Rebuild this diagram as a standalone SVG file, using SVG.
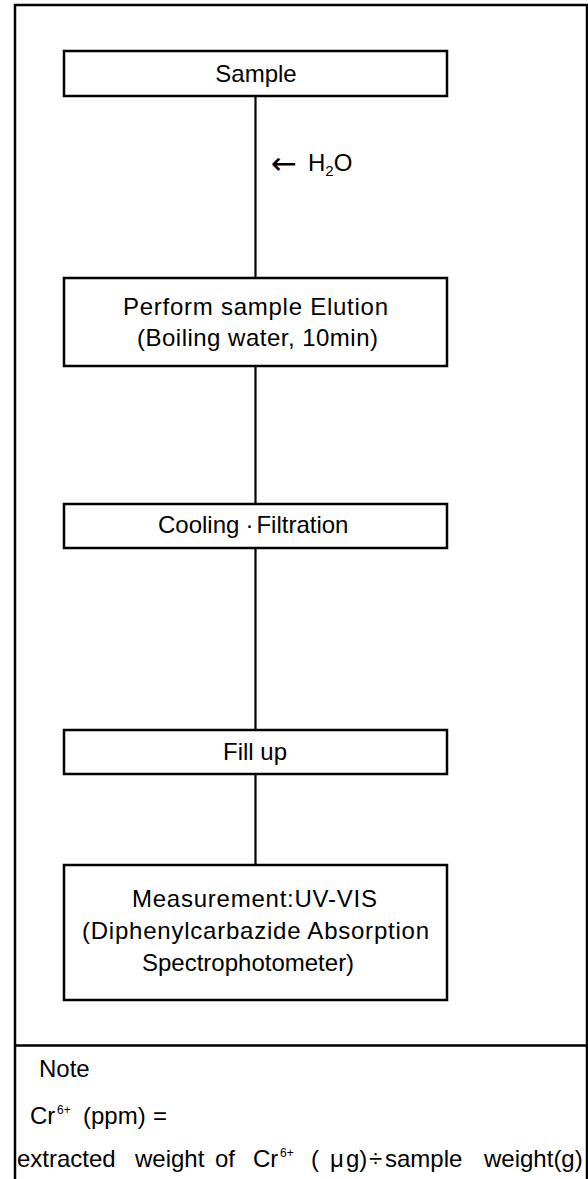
<svg xmlns="http://www.w3.org/2000/svg" width="588" height="1179" viewBox="0 0 588 1179">
<style>
.box{fill:#fff;stroke:#000;stroke-width:2.5}
.frame{fill:none;stroke:#000;stroke-width:2.5}
.conn{stroke:#000;stroke-width:2.2;fill:none}
text{font-family:"Liberation Sans","DejaVu Sans",Arial,sans-serif;font-size:24px;fill:#000}
.sup{font-size:12px}
.sub{font-size:15px}
.arrow{font-family:"DejaVu Sans",sans-serif;font-size:31px}
.c{text-anchor:middle}
</style>
<rect width="588" height="1179" fill="#fff"/>
<g id="frame">
<path class="frame" d="M15,1179 V5 H587 V1179"/>
<line class="frame" x1="15" y1="1045.5" x2="587" y2="1045.5"/>
</g>
<g id="connectors">
<line class="conn" x1="255.5" y1="96" x2="255.5" y2="278"/>
<line class="conn" x1="255.5" y1="366" x2="255.5" y2="504"/>
<line class="conn" x1="255.5" y1="548" x2="255.5" y2="730"/>
<line class="conn" x1="255.5" y1="774" x2="255.5" y2="865"/>
<text class="arrow" x="271" y="174">←</text>
<text x="308" y="171">H<tspan class="sub" dy="5">2</tspan><tspan dy="-5">O</tspan></text>
</g>
<g id="sample">
<rect class="box" x="64" y="51" width="383" height="45"/>
<text class="c" x="256" y="82">Sample</text>
</g>
<g id="elution">
<rect class="box" x="64" y="278" width="383" height="88"/>
<text x="123" y="315" textLength="265" lengthAdjust="spacing">Perform sample Elution</text>
<text x="137" y="346" textLength="241" lengthAdjust="spacing">(Boiling water, 10min)</text>
</g>
<g id="cooling">
<rect class="box" x="64" y="504" width="383" height="44"/>
<text x="158" y="533">Cooling<tspan dx="6">·</tspan><tspan dx="3">Filtration</tspan></text>
</g>
<g id="fillup">
<rect class="box" x="64" y="730" width="383" height="44"/>
<text x="223" y="760">Fill up</text>
</g>
<g id="measurement">
<rect class="box" x="64" y="865" width="383" height="135"/>
<text x="132" y="907" textLength="245" lengthAdjust="spacing">Measurement:UV-VIS</text>
<text x="82" y="939" textLength="347" lengthAdjust="spacing">(Diphenylcarbazide Absorption</text>
<text x="142" y="971">Spectrophotometer)</text>
</g>
<g id="note">
<text x="39" y="1077">Note</text>
<text x="30" y="1124">Cr</text>
<text class="sup" x="57" y="1114">6+</text>
<text x="83" y="1124">(ppm)</text>
<text x="153" y="1124">=</text>
<text x="17" y="1167">extracted</text>
<text x="135" y="1167">weight</text>
<text x="215" y="1167">of</text>
<text x="253" y="1167">Cr</text>
<text class="sup" x="280" y="1157">6+</text>
<text x="311" y="1167">(</text>
<text x="330" y="1167">μ</text>
<text x="346" y="1167">g)</text>
<text x="369" y="1167">÷</text>
<text x="385" y="1167">sample</text>
<text x="484" y="1167">weight(g)</text>
</g>
</svg>
